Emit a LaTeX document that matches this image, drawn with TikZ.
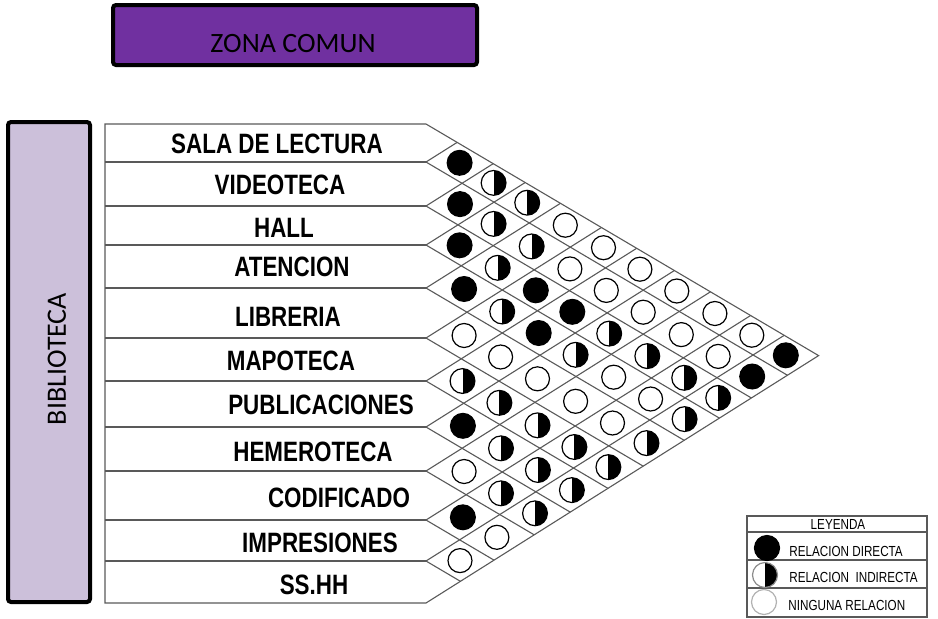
\documentclass[tikz,border=0pt]{standalone}
\usepackage{fontspec}
\usepackage{tikz}
\usetikzlibrary{calc}
\newfontfamily\roomfont[FakeStretch=0.8]{Liberation Sans}
\newfontfamily\zonefont{Carlito}
\definecolor{zonamorado}{RGB}{112,48,160}
\definecolor{biblilila}{RGB}{204,192,218}
\tikzset{
  linea/.style={draw=black!65, line width=0.55pt},
  zonabox/.style={draw=black, line width=2pt, rounded corners=1.5pt},
  zonatexto/.style={font=\fontsize{14}{16}\zonefont, inner sep=0pt},
  ambiente/.style={font=\fontsize{14}{16}\roomfont\bfseries, inner sep=0pt},
  leytexto/.style={font=\fontsize{7.3}{8}\roomfont, inner sep=0pt},
  directa/.style={circle, draw=black, line width=0.6pt, fill=black, minimum size=12.4pt, inner sep=0pt},
  ninguna/.style={circle, draw=black, line width=0.6pt, fill=white, minimum size=12pt, inner sep=0pt},
  indirecta/.style={ninguna, minimum size=12.4pt, path picture={\fill[black] (path picture bounding box.north) rectangle (path picture bounding box.south east);}}
}

\begin{document}
\begin{tikzpicture}[x=0.5pt, y=-0.5pt]
\useasboundingbox (0,0) rectangle (938,618);

\draw[zonabox, fill=zonamorado] (113,5) rectangle (477,65);
\node[zonatexto] (zona) at (293,44) {ZONA COMUN};

\draw[zonabox, fill=biblilila] (8,122) rectangle (90,602);
\node[zonatexto, rotate=90] (biblio) at (57,359) {BIBLIOTECA};

\coordinate (l0) at (105,124);
\coordinate (l1) at (105,162);
\coordinate (l2) at (105,206);
\coordinate (l3) at (105,245);
\coordinate (l4) at (105,288);
\coordinate (l5) at (105,338);
\coordinate (l6) at (105,381);
\coordinate (l7) at (105,427);
\coordinate (l8) at (105,471);
\coordinate (l9) at (105,520);
\coordinate (l10) at (105,561);
\coordinate (l11) at (105,603);

\coordinate (t0) at (426,124);
\coordinate (t1) at (426,162);
\coordinate (t2) at (426,206);
\coordinate (t3) at (426,245);
\coordinate (t4) at (426,288);
\coordinate (t5) at (426,338);
\coordinate (t6) at (426,381);
\coordinate (t7) at (426,427);
\coordinate (t8) at (426,471);
\coordinate (t9) at (426,520);
\coordinate (t10) at (426,561);
\coordinate (t11) at (426,603);

\coordinate (apex) at (818.6,355.6);

\begin{scope}
\clip (t0) -- (apex) -- (t11) -- cycle;
\draw[linea] (t1) -- ++(600,354) (t1) -- ++(600,-378);
\draw[linea] (t2) -- ++(600,354) (t2) -- ++(600,-378);
\draw[linea] (t3) -- ++(600,354) (t3) -- ++(600,-378);
\draw[linea] (t4) -- ++(600,354) (t4) -- ++(600,-378);
\draw[linea] (t5) -- ++(600,354) (t5) -- ++(600,-378);
\draw[linea] (t6) -- ++(600,354) (t6) -- ++(600,-378);
\draw[linea] (t7) -- ++(600,354) (t7) -- ++(600,-378);
\draw[linea] (t8) -- ++(600,354) (t8) -- ++(600,-378);
\draw[linea] (t9) -- ++(600,354) (t9) -- ++(600,-378);
\draw[linea] (t10) -- ++(600,354) (t10) -- ++(600,-378);
\end{scope}

\draw[linea] (l11) -- (l0) -- (t0) -- (apex) -- (t11) -- cycle;
\draw[linea] (l1) -- (t1);
\draw[linea] (l2) -- (t2);
\draw[linea] (l3) -- (t3);
\draw[linea] (l4) -- (t4);
\draw[linea] (l5) -- (t5);
\draw[linea] (l6) -- (t6);
\draw[linea] (l7) -- (t7);
\draw[linea] (l8) -- (t8);
\draw[linea] (l9) -- (t9);
\draw[linea] (l10) -- (t10);

\node[ambiente] (sala) at (277,144) {SALA DE LECTURA};
\node[ambiente] (video) at (280,185) {VIDEOTECA};
\node[ambiente] (hall) at (284,228) {HALL};
\node[ambiente] (atencion) at (292,267) {ATENCION};
\node[ambiente] (libreria) at (288,317) {LIBRERIA};
\node[ambiente] (mapoteca) at (291,361) {MAPOTECA};
\node[ambiente] (publica) at (321,405) {PUBLICACIONES};
\node[ambiente] (hemero) at (313,452) {HEMEROTECA};
\node[ambiente] (codif) at (339,498) {CODIFICADO};
\node[ambiente] (impres) at (320,543) {IMPRESIONES};
\node[ambiente] (sshh) at (314,585) {SS.HH};

\node[directa] (c1-2) at (459.6,162.8) {};
\node[directa] (c2-3) at (460.0,204.1) {};
\node[directa] (c3-4) at (459.6,245.3) {};
\node[directa] (c4-5) at (464.1,289.0) {};
\node[ninguna] (c5-6) at (464.1,335.5) {};
\node[indirecta] (c6-7) at (462.5,381.0) {};
\node[directa] (c7-8) at (462.9,425.8) {};
\node[ninguna] (c8-9) at (464.1,471.5) {};
\node[directa] (c9-10) at (462.9,517.3) {};
\node[ninguna] (c10-11) at (460.0,560.6) {};

\node[indirecta] (c1-3) at (493.6,182.9) {};
\node[indirecta] (c2-4) at (493.6,223.9) {};
\node[indirecta] (c3-5) at (497.7,267.8) {};
\node[indirecta] (c4-6) at (502.2,311.5) {};
\node[ninguna] (c5-7) at (500.6,357.0) {};
\node[indirecta] (c6-8) at (499.4,402.8) {};
\node[indirecta] (c7-9) at (501.0,448.3) {};
\node[indirecta] (c8-10) at (501.0,493.3) {};
\node[ninguna] (c9-11) at (496.9,537.3) {};

\node[indirecta] (c1-4) at (527.2,202.7) {};
\node[indirecta] (c2-5) at (531.7,246.4) {};
\node[directa] (c3-6) at (535.8,290.3) {};
\node[directa] (c4-7) at (538.7,333.0) {};
\node[ninguna] (c5-8) at (537.5,378.8) {};
\node[indirecta] (c6-9) at (537.5,425.3) {};
\node[indirecta] (c7-10) at (537.9,470.0) {};
\node[indirecta] (c8-11) at (535.0,513.3) {};

\node[ninguna] (c1-5) at (565.3,225.2) {};
\node[ninguna] (c2-6) at (569.9,268.9) {};
\node[directa] (c3-7) at (572.3,311.8) {};
\node[indirecta] (c4-8) at (575.6,354.8) {};
\node[ninguna] (c5-9) at (575.6,401.3) {};
\node[indirecta] (c6-10) at (574.4,447.0) {};
\node[indirecta] (c7-11) at (571.9,490.1) {};

\node[ninguna] (c1-6) at (603.5,247.7) {};
\node[ninguna] (c2-7) at (606.3,290.4) {};
\node[indirecta] (c3-8) at (609.2,333.6) {};
\node[ninguna] (c4-9) at (613.7,377.2) {};
\node[ninguna] (c5-10) at (612.5,423.0) {};
\node[indirecta] (c6-11) at (608.4,467.1) {};

\node[ninguna] (c1-7) at (639.9,269.2) {};
\node[ninguna] (c2-8) at (643.2,312.2) {};
\node[indirecta] (c3-9) at (647.3,356.1) {};
\node[ninguna] (c4-10) at (650.6,399.0) {};
\node[indirecta] (c5-11) at (646.5,443.1) {};

\node[ninguna] (c1-8) at (676.8,291.0) {};
\node[ninguna] (c2-9) at (681.3,334.6) {};
\node[indirecta] (c3-10) at (684.2,377.8) {};
\node[indirecta] (c4-11) at (684.6,419.1) {};

\node[ninguna] (c1-9) at (714.9,313.5) {};
\node[ninguna] (c2-10) at (718.2,356.4) {};
\node[indirecta] (c3-11) at (718.2,397.9) {};

\node[ninguna] (c1-10) at (751.8,335.2) {};
\node[directa] (c2-11) at (752.2,376.5) {};

\node[directa] (c1-11) at (785.8,355.3) {};

\draw[linea] (747,516) rectangle (927,617);
\draw[linea] (747,532) -- (927,532);
\draw[linea] (747,560) -- (927,560);
\draw[linea] (747,588) -- (927,588);

\node[leytexto] (ley) at (838,524.5) {LEYENDA};
\node[directa, minimum size=12.5pt] (ley-d) at (767,548) {};
\node[indirecta, minimum size=12.5pt, draw=black!45] (ley-i) at (765,575) {};
\node[ninguna, minimum size=12.5pt, draw=black!30] (ley-n) at (764,602) {};
\node[leytexto, anchor=west] (ley-dt) at (789,551) {RELACION DIRECTA};
\node[leytexto, anchor=west] (ley-it) at (789,577) {RELACION\ \ INDIRECTA};
\node[leytexto, anchor=west] (ley-nt) at (788,605) {NINGUNA RELACION};

\end{tikzpicture}
\end{document}
